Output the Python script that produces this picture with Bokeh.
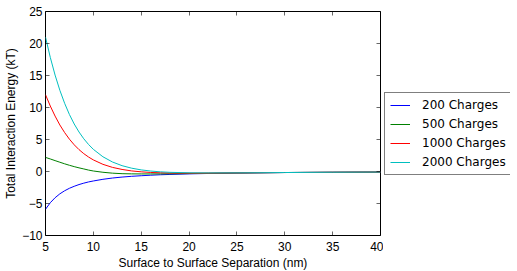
from bokeh.plotting import figure
from bokeh.layouts import row
from bokeh.models import Range1d, LinearAxis, FixedTicker, Legend, LegendItem
from bokeh.embed import file_html
from bokeh.resources import INLINE

# ---- data ----
separation_nm = [5, 5.5, 6, 6.5, 7, 7.5, 8, 8.5, 9, 9.5, 10, 11, 12, 13, 14, 15,
                 16, 17, 18, 20, 22, 25, 30, 35, 40]
energy_200 = [-5.90, -4.88, -4.10, -3.49, -3.01, -2.62, -2.31, -2.04, -1.82, -1.63,
              -1.48, -1.22, -1.02, -0.87, -0.75, -0.66, -0.58, -0.51, -0.46, -0.37,
              -0.31, -0.24, -0.16, -0.12, -0.09]
energy_500 = [2.20, 1.96, 1.70, 1.45, 1.20, 0.97, 0.76, 0.57, 0.40, 0.22,
              0.08, -0.12, -0.26, -0.34, -0.37, -0.38, -0.38, -0.37, -0.36, -0.32,
              -0.28, -0.23, -0.16, -0.12, -0.09]
energy_1000 = [12.00, 10.23, 8.66, 7.27, 6.08, 5.05, 4.17, 3.42, 2.79, 2.26,
               1.81, 1.12, 0.64, 0.32, 0.09, -0.05, -0.15, -0.20, -0.24, -0.26,
               -0.25, -0.22, -0.16, -0.12, -0.09]
energy_2000 = [21.00, 17.83, 15.07, 12.69, 10.65, 8.90, 7.42, 6.17, 5.11, 4.22,
               3.46, 2.30, 1.48, 0.91, 0.52, 0.25, 0.07, -0.05, -0.13, -0.20,
               -0.22, -0.21, -0.16, -0.12, -0.09]

series_labels = ["200 Charges", "500 Charges", "1000 Charges", "2000 Charges"]
series_colors = ["#0000ff", "#008000", "#ff0000", "#00bfbf"]

x_ticks = [5, 10, 15, 20, 25, 30, 35, 40]
x_tick_labels = ["5", "10", "15", "20", "25", "30", "35", "40"]
y_ticks = [-10, -5, 0, 5, 10, 15, 20, 25]
y_tick_labels = ["\u221210", "\u22125", "0", "5", "10", "15", "20", "25"]

x_label = "Surface to Surface Separation (nm)"
y_label = "Total Interaction Energy (kT)"

AXIS_FONT = "Liberation Sans"
LEGEND_FONT = "DejaVu Sans"

FRAME_H = 224
TOP = 11
BOTTOM = 36

p = figure(
    frame_width=335, frame_height=FRAME_H,
    min_border_left=45, min_border_right=3, min_border_top=TOP, min_border_bottom=BOTTOM,
    x_range=Range1d(5, 40), y_range=Range1d(-10, 25),
    output_backend="svg", toolbar_location=None,
    background_fill_color="white", border_fill_color="white",
)
p.grid.visible = False
p.outline_line_color = "black"
p.outline_line_width = 1

for ys, col in zip([energy_200, energy_500, energy_1000, energy_2000], series_colors):
    p.line(separation_nm, ys, line_color=col, line_width=1)


def style_axis(ax, ticks, labels, show_labels):
    ax.ticker = FixedTicker(ticks=ticks)
    ax.major_label_overrides = {t: l for t, l in zip(ticks, labels)}
    ax.minor_tick_line_color = None
    ax.major_tick_in = 4
    ax.major_tick_out = 0
    ax.major_tick_line_color = "black"
    ax.major_tick_line_width = 0.6
    ax.axis_line_color = None
    ax.major_label_text_font = AXIS_FONT
    if show_labels:
        ax.major_label_text_font_size = "12px"
        ax.major_label_text_color = "black"
    else:
        ax.major_label_text_font_size = "1px"
        ax.major_label_text_color = None
        ax.major_label_standoff = 0


xb = p.xaxis[0]
yl = p.yaxis[0]
style_axis(xb, x_ticks, x_tick_labels, True)
style_axis(yl, y_ticks, y_tick_labels, True)
xb.major_label_standoff = 6
yl.major_label_standoff = 3
xb.axis_label = x_label
yl.axis_label = y_label
for ax in (xb, yl):
    ax.axis_label_text_font = AXIS_FONT
    ax.axis_label_text_font_size = "12px"
    ax.axis_label_text_font_style = "normal"
    ax.axis_label_text_color = "black"
xb.axis_label_standoff = 2
yl.axis_label_standoff = 1

xt = LinearAxis()
yr = LinearAxis()
style_axis(xt, x_ticks, x_tick_labels, False)
style_axis(yr, y_ticks, y_tick_labels, False)
p.add_layout(xt, "above")
p.add_layout(yr, "right")

# ---- legend panel (separate figure to the right of the axes, same frame height) ----
q = figure(
    frame_width=127, frame_height=FRAME_H,
    x_range=Range1d(0, 1), y_range=Range1d(0, 1),
    x_axis_type=None, y_axis_type=None,
    min_border_left=0, min_border_top=TOP, min_border_right=0, min_border_bottom=BOTTOM,
    output_backend="svg", toolbar_location=None,
    background_fill_color="white", border_fill_color="white",
)
q.grid.visible = False
q.outline_line_color = None
key_renderers = [q.line(x=[float("nan")], y=[float("nan")], line_color=col, line_width=1)
                 for col in series_colors]

legend = Legend(
    items=[LegendItem(label=lab, renderers=[r]) for lab, r in zip(series_labels, key_renderers)],
    location=(1, 60),
    label_text_font=LEGEND_FONT,
    label_text_font_size="12px",
    label_text_color="black",
    border_line_color="black",
    border_line_width=1,
    background_fill_color="white",
    background_fill_alpha=1.0,
    padding=5,
    margin=0,
    spacing=5,
    label_height=14,
    glyph_height=14,
    glyph_width=20,
    label_standoff=12,
)
q.add_layout(legend, "center")

layout = row(p, q)
open("out.html", "w").write(file_html(layout, INLINE))
